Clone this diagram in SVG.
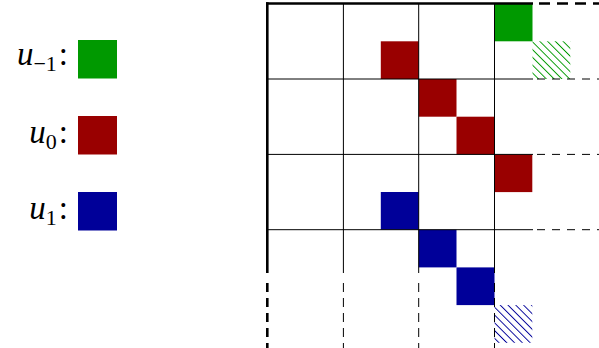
<svg xmlns="http://www.w3.org/2000/svg" width="599" height="348" viewBox="0 0 599 348">
<style>
.lbl{font-family:"Liberation Serif","DejaVu Serif",serif;font-size:33px;fill:#000}
.sub{font-size:22px;font-style:normal}
.g{fill:#009900}.r{fill:#990000}.b{fill:#000099}
.thin{stroke:#000;stroke-width:1;fill:none}
.thick{stroke:#000;stroke-width:2.6;fill:none}
.td{stroke-dasharray:9 6}
.hd{stroke-dasharray:8 7}
.tkd{stroke-dasharray:11 7}
</style>
<defs>
<pattern id="hg" patternUnits="userSpaceOnUse" width="5.5" height="5.5" patternTransform="rotate(-45)">
<line x1="0" y1="0" x2="0" y2="5.5" stroke="#009900" stroke-width="1.9"/>
</pattern>
<pattern id="hb" patternUnits="userSpaceOnUse" width="5.5" height="5.5" patternTransform="rotate(-45)">
<line x1="0" y1="0" x2="0" y2="5.5" stroke="#000099" stroke-width="1.9"/>
</pattern>
</defs>
<g id="legend">
<g id="leg-um1"><text class="lbl" x="68" y="65" text-anchor="end"><tspan font-style="italic">u</tspan><tspan class="sub" dy="6">−1</tspan><tspan dx="2" dy="-6">:</tspan></text><rect class="g" x="78" y="40" width="39" height="38.5"/></g>
<g id="leg-u0"><text class="lbl" x="68" y="143" text-anchor="end"><tspan font-style="italic">u</tspan><tspan class="sub" dy="6">0</tspan><tspan dx="2" dy="-6">:</tspan></text><rect class="r" x="78" y="116" width="39" height="38.5"/></g>
<g id="leg-u1"><text class="lbl" x="68" y="219" text-anchor="end"><tspan font-style="italic">u</tspan><tspan class="sub" dy="6">1</tspan><tspan dx="2" dy="-6">:</tspan></text><rect class="b" x="78" y="192" width="39" height="38.5"/></g>
</g>
<g id="cells">
<rect class="g" x="494.5" y="3.5" width="38" height="37.8"/>
<rect fill="url(#hg)" x="532.5" y="41.3" width="37.8" height="37.7"/>
<rect class="r" x="380.8" y="41.3" width="37.9" height="37.7"/>
<rect class="r" x="418.7" y="79" width="37.8" height="37.7"/>
<rect class="r" x="456.5" y="116.7" width="38" height="37.7"/>
<rect class="r" x="494.5" y="154.4" width="37.8" height="37.7"/>
<rect class="b" x="380.8" y="192" width="37.9" height="37.7"/>
<rect class="b" x="418.7" y="229.7" width="37.8" height="37.7"/>
<rect class="b" x="456.5" y="267.4" width="38" height="37.7"/>
<rect fill="url(#hb)" x="494.5" y="305.1" width="37.8" height="37.7"/>
</g>
<g id="connectors">
<line class="thin" x1="268" y1="79" x2="533" y2="79"/>
<line class="thin" x1="268" y1="154.4" x2="533" y2="154.4"/>
<line class="thin" x1="268" y1="229.7" x2="533" y2="229.7"/>
<line class="thin hd" x1="537" y1="79" x2="599" y2="79"/>
<line class="thin hd" x1="537" y1="154.4" x2="599" y2="154.4"/>
<line class="thin hd" x1="537" y1="229.7" x2="599" y2="229.7"/>
<line class="thin" x1="343.4" y1="3.5" x2="343.4" y2="273"/>
<line class="thin" x1="418.7" y1="3.5" x2="418.7" y2="273"/>
<line class="thin" x1="494.5" y1="3.5" x2="494.5" y2="273"/>
<line class="thin td" x1="343.4" y1="283" x2="343.4" y2="348"/>
<line class="thin td" x1="418.7" y1="283" x2="418.7" y2="348"/>
<line class="thin td" x1="494.5" y1="283" x2="494.5" y2="348"/>
<line class="thick" x1="267.3" y1="2.3" x2="267.3" y2="273"/>
<line class="thick" x1="266" y1="3.5" x2="533" y2="3.5"/>
<line class="thick td" x1="267.3" y1="283" x2="267.3" y2="348"/>
<line class="thick tkd" x1="539" y1="3.5" x2="599" y2="3.5"/>
</g>
</svg>
